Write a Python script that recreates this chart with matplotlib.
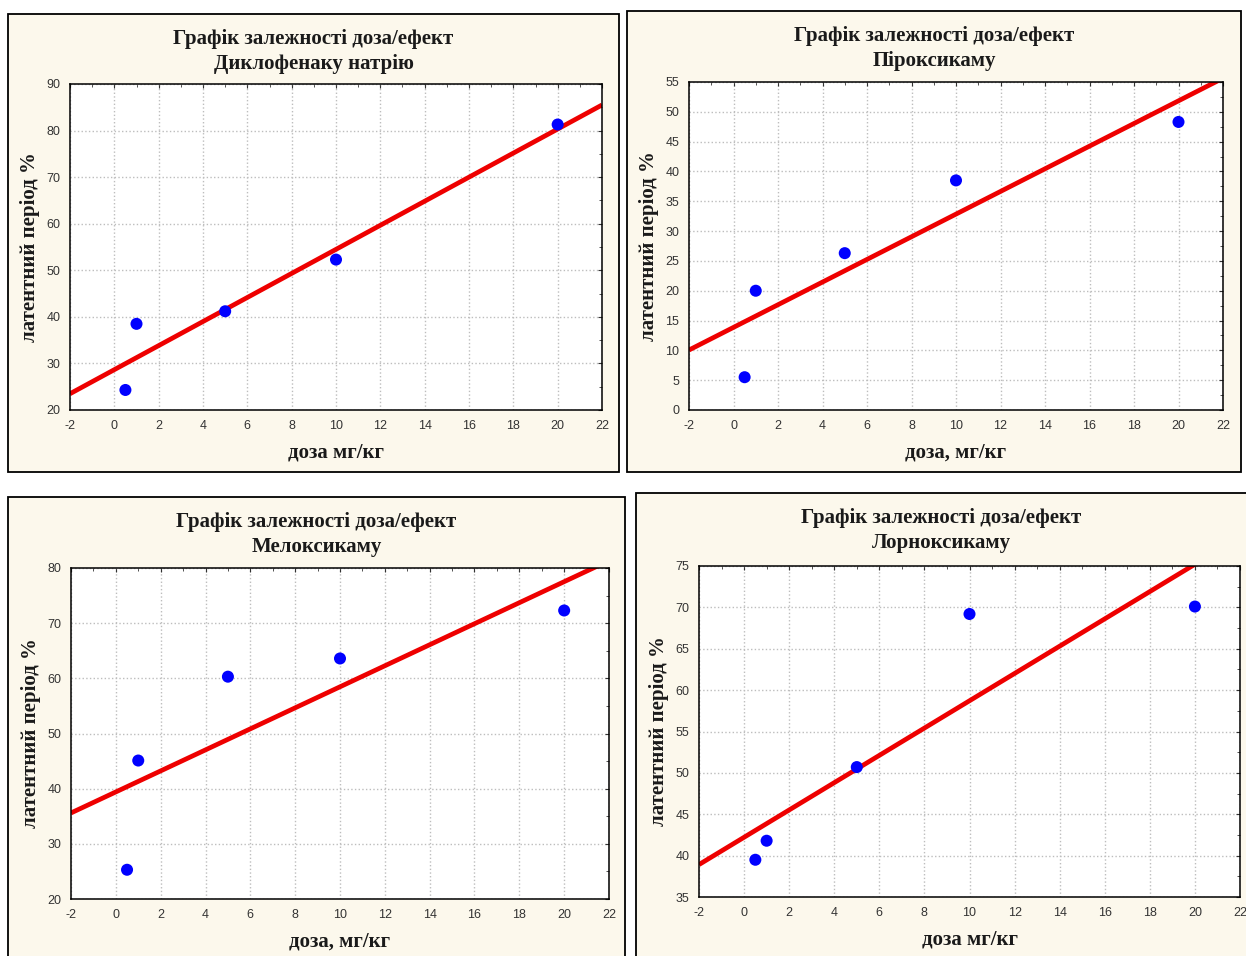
import matplotlib
matplotlib.use('Agg')
import matplotlib.pyplot as plt
from matplotlib.patches import Rectangle
from matplotlib.ticker import MultipleLocator, AutoMinorLocator
import numpy as np

plt.rcParams['axes.unicode_minus'] = False

W, H = 1246, 956

dose = [0.5, 1, 5, 10, 20]
diclofenac = [24.3, 38.5, 41.2, 52.3, 81.3]
piroxicam = [5.5, 20.0, 26.3, 38.5, 48.3]
meloxicam = [25.3, 45.1, 60.3, 63.6, 72.3]
lornoxicam = [39.5, 41.8, 50.7, 69.2, 70.1]

title_top = 'Графік залежності доза/ефект'
names = ['Диклофенаку натрію', 'Піроксикаму', 'Мелоксикаму', 'Лорноксикаму']
xlabels = ['доза мг/кг', 'доза, мг/кг', 'доза, мг/кг', 'доза мг/кг']
ylabel = 'латентний період %'
series = [diclofenac, piroxicam, meloxicam, lornoxicam]
ylims = [(20, 90, 10), (0, 55, 5), (20, 80, 10), (35, 75, 5)]

# layout in pixels: box (x0, y0, x1, y1), plot area (left, top, right, bottom)
boxes = [(8, 14, 619, 472), (627, 11, 1241, 472), (8, 497, 625, 962), (636, 493, 1250, 962)]
plots = [(70, 84, 602, 410), (689, 82, 1223, 410), (71, 568, 609, 899), (699, 566, 1240, 897)]

bg = '#fcf8ec'
serif = 'Liberation Serif'
fs = 15

fig = plt.figure(figsize=(W / 100, H / 100), dpi=100)
fig.patch.set_facecolor('white')


def fx(px):
    return px / W


def fy(py):
    return 1 - py / H


for i in range(4):
    x0, y0, x1, y1 = boxes[i]
    box = Rectangle((fx(x0), fy(y1)), fx(x1 - x0), (y1 - y0) / H,
                    transform=fig.transFigure, facecolor=bg,
                    edgecolor='black', lw=1.3, zorder=-5)
    fig.add_artist(box)
    l, t, r, b = plots[i]
    ax = fig.add_axes([fx(l), fy(b), fx(r - l), (b - t) / H])
    ax.set_zorder(1)
    ax.set_facecolor('white')
    lo, hi, step = ylims[i]
    ax.set_xlim(-2, 22)
    ax.set_ylim(lo, hi)
    ax.xaxis.set_major_locator(MultipleLocator(2))
    ax.yaxis.set_major_locator(MultipleLocator(step))
    ax.xaxis.set_minor_locator(AutoMinorLocator(2))
    ax.yaxis.set_minor_locator(AutoMinorLocator(2))
    ax.grid(True, which='major', color='#bdbdbd', linestyle=':', lw=1.0)
    ax.tick_params(which='both', direction='in', top=True, right=True,
                   left=False, bottom=False,
                   labelsize=9, labelcolor='#333333', color='#333333', pad=7)
    ax.tick_params(which='major', length=3)
    ax.tick_params(which='minor', length=2)
    for lab in ax.get_xticklabels() + ax.get_yticklabels():
        lab.set_family('Liberation Sans')
    for s in ax.spines.values():
        s.set_linewidth(1.1)

    y = series[i]
    k, c = np.polyfit(dose, y, 1)
    xs = np.array([-2, 22])
    ax.plot(xs, k * xs + c, color='#ee0000', lw=3.4, solid_capstyle='butt', zorder=2)
    ax.scatter(dose, y, s=75, color='#0000ff', zorder=3, edgecolors='none')

    cx = (x0 + min(x1, W)) / 2
    fig.text(fx(cx), fy(y0 + 25), title_top, ha='center', va='center',
             family=serif, weight='bold', fontsize=fs, color='#1a1a1a')
    fig.text(fx(cx), fy(y0 + 50), names[i], ha='center', va='center',
             family=serif, weight='bold', fontsize=fs, color='#1a1a1a')
    fig.text(fx((l + r) / 2), fy(b + 42), xlabels[i], ha='center', va='center',
             family=serif, weight='bold', fontsize=fs, color='#1a1a1a')
    fig.text(fx(l - 40), fy((t + b) / 2), ylabel, ha='center', va='center',
             rotation=90, family=serif, weight='bold', fontsize=fs, color='#1a1a1a')

fig.savefig('out.png', dpi=100, facecolor='white')
